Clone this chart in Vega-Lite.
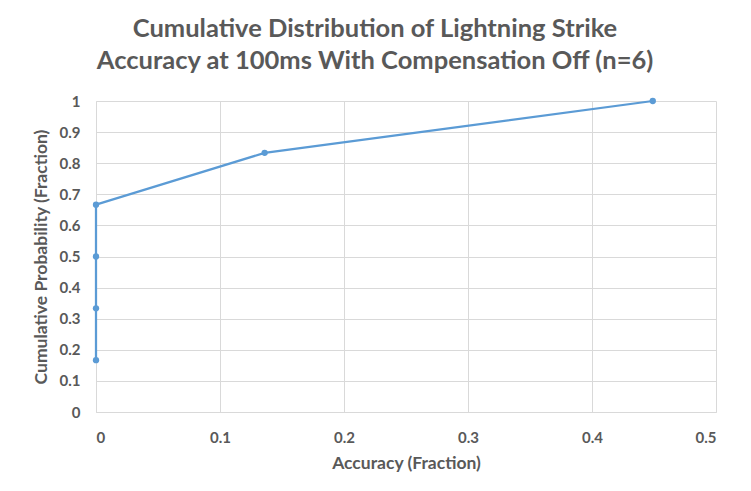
{
  "$schema": "https://vega.github.io/schema/vega-lite/v6.json",
  "width": 620,
  "height": 311,
  "autosize": {"type": "none"},
  "padding": {"left": 96, "top": 101, "right": 35, "bottom": 79},
  "background": "white",
  "title": {
    "text": ["Cumulative Distribution of Lightning Strike", "Accuracy at 100ms With Compensation Off (n=6)"],
    "font": "Lato",
    "fontSize": 25.5,
    "fontWeight": "bold",
    "color": "#595959",
    "lineHeight": 32,
    "anchor": "middle",
    "frame": "group",
    "offset": 20,
    "dx": -31
  },
  "data": {
    "values": [
      {"accuracy": 0, "prob": 0.1667},
      {"accuracy": 0, "prob": 0.3333},
      {"accuracy": 0, "prob": 0.5},
      {"accuracy": 0, "prob": 0.6667},
      {"accuracy": 0.136, "prob": 0.8333},
      {"accuracy": 0.449, "prob": 1.0}
    ]
  },
  "mark": {"type": "line", "color": "#5B9BD5", "strokeWidth": 2.25, "point": {"filled": true, "size": 40, "color": "#5B9BD5", "opacity": 1}},
  "encoding": {
    "x": {
      "field": "accuracy", "type": "quantitative",
      "scale": {"domain": [0, 0.5], "nice": false, "zero": true},
      "axis": {"values": [0, 0.1, 0.2, 0.3, 0.4, 0.5], "format": "~g", "title": "Accuracy (Fraction)", "titlePadding": 9, "labelPadding": 18}
    },
    "y": {
      "field": "prob", "type": "quantitative",
      "scale": {"domain": [0, 1], "nice": false},
      "axis": {"values": [0, 0.1, 0.2, 0.3, 0.4, 0.5, 0.6, 0.7, 0.8, 0.9, 1], "format": "~g", "title": "Cumulative Probability (Fraction)", "titlePadding": 9, "labelPadding": 16}
    },
    "order": {"field": "prob", "type": "quantitative"}
  },
  "config": {
    "view": {"stroke": null},
    "axis": {
      "grid": true,
      "gridColor": "#d9d9d9",
      "gridWidth": 1,
      "domainColor": "#d9d9d9",
      "ticks": false,
      "labelFont": "Lato",
      "labelFontSize": 15,
      "labelFontWeight": "bold",
      "labelColor": "#595959",
      "titleFont": "Lato",
      "titleFontSize": 17.5,
      "titleFontWeight": "bold",
      "titleColor": "#595959"
    }
  }
}
